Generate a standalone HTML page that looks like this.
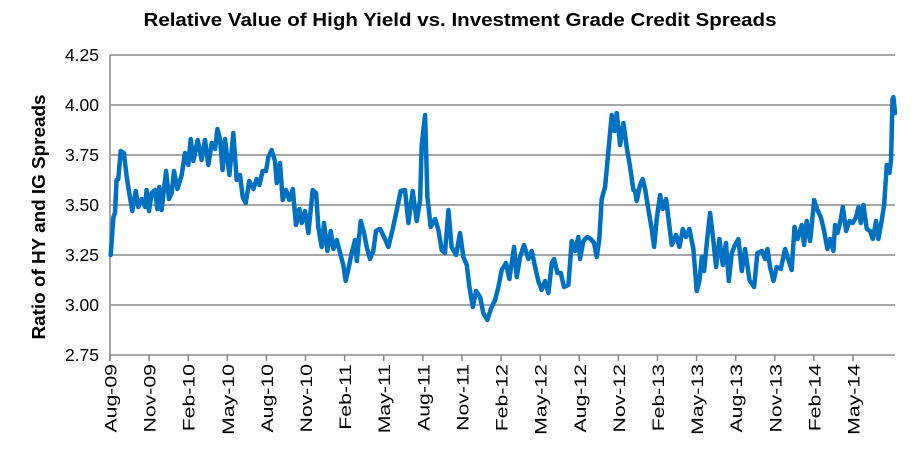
<!DOCTYPE html>
<html><head><meta charset="utf-8"><style>
body{margin:0;background:#fff;width:919px;height:450px;overflow:hidden}
svg{display:block;font-family:"Liberation Sans",Arial,sans-serif}
</style></head><body>
<svg id="chart" width="919" height="450">
<text x="460" y="26" text-anchor="middle" font-size="18" font-weight="bold" textLength="633" lengthAdjust="spacingAndGlyphs" fill="#000">Relative Value of High Yield vs. Investment Grade Credit Spreads</text>
<text transform="translate(45,217) rotate(-90)" text-anchor="middle" font-size="18" font-weight="bold" textLength="245" lengthAdjust="spacingAndGlyphs">Ratio of HY and IG Spreads</text>
<g id="grid"></g><g id="yt"></g><g id="xt"></g><g id="series"></g>
</svg>
<script>
const yTicks=["2.75","3.00","3.25","3.50","3.75","4.00","4.25"];
const xLabels=["Aug-09","Nov-09","Feb-10","May-10","Aug-10","Nov-10","Feb-11","May-11","Aug-11","Nov-11","Feb-12","May-12","Aug-12","Nov-12","Feb-13","May-13","Aug-13","Nov-13","Feb-14","May-14"];
const months=[0.05,0.26,0.38,0.51,0.64,0.82,1.07,1.28,1.53,1.71,1.97,2.17,2.43,2.69,2.81,2.99,3.20,3.45,3.63,3.79,3.96,4.30,4.53,4.73,4.91,5.17,5.50,5.75,6.01,6.19,6.39,6.73,7.03,7.29,7.54,7.80,8.06,8.24,8.44,8.64,8.82,9.16,9.46,9.72,9.97,10.18,10.41,10.69,11.00,11.25,11.46,11.71,11.97,12.15,12.40,12.66,12.79,13.04,13.25,13.50,13.76,14.02,14.27,14.53,14.71,14.96,15.22,15.55,15.81,15.98,16.24,16.42,16.68,16.93,17.14,17.39,17.65,17.90,18.08,18.29,18.54,18.80,18.93,19.23,19.49,19.69,19.95,20.20,20.41,20.66,
20.72,21.10,21.36,21.69,22.00,22.30,22.63,22.89,23.22,23.53,23.79,23.91,24.17,24.35,24.60,24.94,25.19,25.45,25.70,25.96,26.21,26.55,26.85,27.11,27.37,27.57,27.83,28.08,28.39,28.64,28.95,29.21,29.54,29.80,30.05,30.38,30.64,31.00,31.20,31.46,31.76,32.10,32.35,32.61,32.86,33.12,33.38,33.63,33.89,34.07,34.32,34.58,34.83,35.17,35.42,35.68,35.93,36.06,36.32,36.62,36.88,37.14,37.34,37.54,37.72,37.98,38.24,38.49,38.70,38.87,39.13,39.39,39.64,39.90,40.15,
40.28,40.41,40.66,40.87,41.05,41.30,41.56,41.74,41.94,42.20,42.40,42.66,42.92,43.09,43.43,43.68,43.94,44.19,44.45,44.76,45.01,45.22,45.40,45.58,45.83,46.04,46.29,46.50,46.75,47.01,47.26,47.47,47.70,47.95,48.21,48.47,48.72,49.05,49.41,49.67,50.00,50.26,50.43,50.64,50.90,51.15,51.46,51.79,52.05,52.30,52.51,52.76,53.07,53.25,53.45,53.71,54.02,54.27,54.53,54.78,55.04,55.24,55.50,55.63,55.81,56.06,56.22,56.47,56.73,56.98,57.24,57.42,57.60,57.80,58.06,58.31,58.52,58.77,58.95,59.21,59.39,59.59,59.80,59.92,60.03,60.10,60.23];
const ratios=[3.25,3.44,3.46,3.625,3.63,3.77,3.76,3.64,3.54,3.47,3.57,3.49,3.53,3.49,3.575,3.47,3.56,3.575,3.48,3.59,3.475,3.67,3.53,3.56,3.67,3.58,3.65,3.76,3.70,3.83,3.72,3.825,3.725,3.825,3.70,3.81,3.78,3.88,3.83,3.675,3.83,3.65,3.86,3.625,3.65,3.54,3.51,3.62,3.58,3.63,3.60,3.67,3.67,3.74,3.775,3.72,3.61,3.71,3.525,3.575,3.525,3.58,3.40,3.48,3.41,3.47,3.36,3.575,3.56,3.39,3.29,3.41,3.27,3.37,3.28,3.325,3.26,3.20,3.12,3.18,3.26,3.325,3.22,3.42,3.36,3.29,3.23,3.27,3.37,3.38,
3.38,3.33,3.29,3.38,3.475,3.57,3.575,3.41,3.57,3.42,3.525,3.80,3.95,3.54,3.39,3.43,3.375,3.275,3.26,3.475,3.29,3.25,3.36,3.24,3.20,3.09,2.99,3.07,3.04,2.96,2.925,2.98,3.025,3.09,3.175,3.21,3.13,3.29,3.14,3.24,3.30,3.23,3.27,3.19,3.12,3.075,3.12,3.06,3.21,3.23,3.16,3.16,3.09,3.10,3.32,3.27,3.34,3.23,3.32,3.34,3.33,3.31,3.24,3.33,3.53,3.59,3.775,3.95,3.87,3.96,3.80,3.91,3.79,3.69,3.575,
3.57,3.52,3.60,3.63,3.58,3.48,3.38,3.29,3.43,3.55,3.48,3.53,3.39,3.30,3.35,3.29,3.38,3.34,3.38,3.28,3.07,3.12,3.24,3.17,3.34,3.46,3.32,3.19,3.33,3.20,3.31,3.12,3.26,3.30,3.33,3.17,3.28,3.125,3.09,3.26,3.27,3.23,3.28,3.19,3.12,3.19,3.18,3.28,3.225,3.175,3.39,3.33,3.40,3.30,3.42,3.32,3.525,3.475,3.44,3.37,3.28,3.33,3.27,3.40,3.36,3.425,3.49,3.37,3.42,3.41,3.44,3.49,3.41,3.50,3.38,3.37,3.33,3.42,3.33,3.425,3.50,3.70,3.66,3.73,4.03,4.04,3.96];
const NS="http://www.w3.org/2000/svg";
const X0=110,X1=895,Y0=355,Y1=55,PXM=13.035;
function xs(m){return X0+m*PXM;}
function ys(v){return Y0-(v-2.75)/1.5*(Y0-Y1);}
function mk(t,a,p){const e=document.createElementNS(NS,t);for(const k in a)e.setAttribute(k,a[k]);p.appendChild(e);return e;}
const grid=document.getElementById('grid'),yt=document.getElementById('yt'),xt=document.getElementById('xt'),ser=document.getElementById('series');
yTicks.forEach(t=>{const y=ys(parseFloat(t));
 if(parseFloat(t)>2.75){const g=mk('line',{x1:X0,x2:X1,y1:y,y2:y,stroke:'#888','stroke-width':1.5},grid);
 
 }
 const tx=mk('text',{x:99,y:y+6,'text-anchor':'end','font-size':17.5},yt);tx.textContent=t;
 
 
});
const ax=mk('line',{x1:X0,x2:X0,y1:Y1,y2:Y0+6,stroke:'#888','stroke-width':1.5},grid);


const bx=mk('line',{x1:X0,x2:X1,y1:Y0,y2:Y0,stroke:'#888','stroke-width':1.5},grid);


xLabels.forEach((l,i)=>{const x=xs(i*3);
 const tk=mk('line',{x1:x,x2:x,y1:Y0,y2:Y0+6,stroke:'#888','stroke-width':1.5},grid);
 
 
 const tx=mk('text',{transform:`translate(${x+6.5},364) rotate(-90) scale(1.25,1)`,'text-anchor':'end','font-size':17},xt);tx.textContent=l;
 
 
});
const d=months.map((m,i)=>(i?'L':'M')+xs(m).toFixed(1)+','+ys(ratios[i]).toFixed(1)).join('');
const p=mk('path',{d:d,fill:'none',stroke:'#0070C0','stroke-width':4.5,'stroke-linejoin':'round','stroke-linecap':'round'},ser);


</script>
</body></html>
